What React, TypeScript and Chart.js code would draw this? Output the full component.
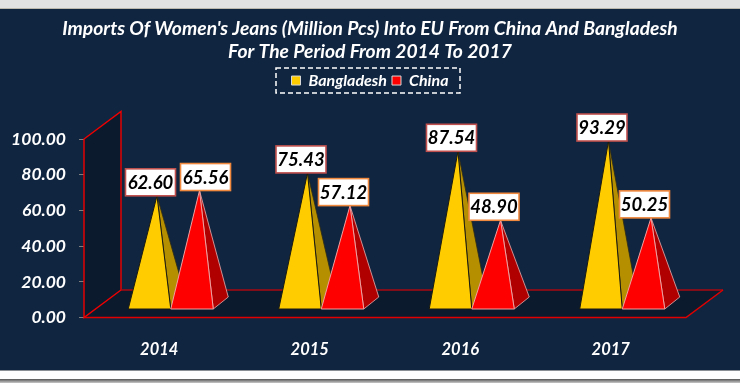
import React, { useEffect, useRef } from "react";
import { Chart, registerables } from "chart.js";

Chart.register(...registerables);

const years = ["2014", "2015", "2016", "2017"];
const bangladesh = [62.6, 75.43, 87.54, 93.29];
const china = [65.56, 57.12, 48.9, 50.25];
const seriesNames = ["Bangladesh", "China"];
const yTicks = [0, 20, 40, 60, 80, 100];
const titleLines = [
  "Imports Of Women's Jeans (Million Pcs) Into EU From China And Bangladesh",
  "For The Period From 2014 To 2017",
];

const FONT = "Lato, Carlito, 'Open Sans', sans-serif";
const NAVY = "#10253F";
const WALL = "#0C1A2E";
const YELLOW = "#FFCC00";
const RED = "#FF0000";

const skins = [
  { front: YELLOW, side: "#B58F00", edge: "#1a1a10", sideEdge: "#2b2a18", box: "#C0504D" },
  { front: RED, side: "#B00000", edge: "#EFA0A0", sideEdge: "#E8B0B0", box: "#F0883E" },
];

const wallDepth = { x: 37, y: -27.6 };
const floorShift = { x: 11.5, y: -8.1 };
const baseDepth = { x: 15, y: -12 };
const apexLift = 10;

function poly(ctx: CanvasRenderingContext2D, pts: number[][], fill: string | null, stroke: string | null, lw = 1) {
  ctx.beginPath();
  pts.forEach((p, i) => (i ? ctx.lineTo(p[0], p[1]) : ctx.moveTo(p[0], p[1])));
  ctx.closePath();
  if (fill) {
    ctx.fillStyle = fill;
    ctx.fill();
  }
  if (stroke) {
    ctx.strokeStyle = stroke;
    ctx.lineWidth = lw;
    ctx.stroke();
  }
}

const backdrop = {
  id: "backdrop",
  beforeDraw(chart: any) {
    const { ctx, width, height } = chart;
    ctx.save();
    ctx.fillStyle = "#FFFFFF";
    ctx.fillRect(0, 0, width, height);
    ctx.fillStyle = "#E2E2E2";
    ctx.fillRect(0, 0, width, 8);
    ctx.fillStyle = "#BDB8AE";
    ctx.fillRect(0, 8, width, 1);
    ctx.fillStyle = NAVY;
    ctx.fillRect(0, 9, width, 361);
    ctx.fillStyle = "#8A8F96";
    ctx.fillRect(0, 370, width, 1);
    const g = ctx.createLinearGradient(0, 379, 0, 383);
    g.addColorStop(0, "#555555");
    g.addColorStop(1, "#C8C8C8");
    ctx.fillStyle = g;
    ctx.fillRect(0, 379, width, 4);

    ctx.strokeStyle = "#FFFFFF";
    ctx.lineWidth = 1.5;
    ctx.setLineDash([5, 3]);
    ctx.strokeRect(276, 68, 184, 25);
    ctx.restore();
  },
  beforeDatasetsDraw(chart: any) {
    const { ctx, chartArea: a } = chart;
    const d = wallDepth;
    ctx.save();
    poly(ctx, [[a.left, a.bottom], [a.right, a.bottom], [a.right + d.x, a.bottom + d.y], [a.left + d.x, a.bottom + d.y]], WALL, null);
    poly(ctx, [[a.left, a.bottom], [a.left, a.top], [a.left + d.x, a.top + d.y], [a.left + d.x, a.bottom + d.y]], WALL, "#F00000", 1.4);
    ctx.strokeStyle = "#A80A12";
    ctx.lineWidth = 1.5;
    ctx.beginPath();
    ctx.moveTo(a.left + d.x, a.bottom + d.y);
    ctx.lineTo(a.right + d.x, a.bottom + d.y);
    ctx.stroke();
    ctx.strokeStyle = "#E00000";
    ctx.beginPath();
    ctx.moveTo(a.left, a.bottom);
    ctx.lineTo(a.right, a.bottom);
    ctx.lineTo(a.right + d.x, a.bottom + d.y);
    ctx.stroke();
    ctx.restore();
  },
};

const pyramids = {
  id: "pyramids",
  afterDatasetsDraw(chart: any) {
    const { ctx } = chart;
    ctx.save();
    const tops: any[] = [];
    chart.data.datasets.forEach((ds: any, di: number) => {
      const skin = skins[di];
      chart.getDatasetMeta(di).data.forEach((bar: any, i: number) => {
        const halfW = bar.width / 2;
        const l = bar.x - halfW + floorShift.x;
        const r = bar.x + halfW + floorShift.x;
        const by = bar.base + floorShift.y;
        const apex = [(l + r + baseDepth.x) / 2, bar.y - apexLift];
        const backR = [r + baseDepth.x, by + baseDepth.y];
        poly(ctx, [[r, by], backR, apex], skin.side, skin.sideEdge, 0.8);
        poly(ctx, [[l, by], [r, by], apex], skin.front, skin.edge, 1);
        tops.push({ apex, value: ds.data[i], box: skin.box, di, i });
      });
    });
    tops.forEach((t) => {
      const w = 50;
      const h = 27;
      const flipRight = t.di === 1 && t.i === 0;
      const cx = t.apex[0] + (flipRight ? 6 : -6.5);
      const x = cx - w / 2;
      const y = t.apex[1] - h;
      ctx.fillStyle = "#FFFFFF";
      ctx.fillRect(x, y, w, h);
      ctx.strokeStyle = t.box;
      ctx.lineWidth = 1.6;
      ctx.strokeRect(x, y, w, h);
      ctx.fillStyle = "#000000";
      ctx.font = `italic bold 18.5px ${FONT}`;
      ctx.textAlign = "center";
      ctx.textBaseline = "middle";
      ctx.fillText(t.value.toFixed(2), cx, y + h / 2 + 0.5);
    });
    ctx.restore();
  },
};

export default function App() {
  const ref = useRef<HTMLCanvasElement>(null);
  useEffect(() => {
    document.body.style.margin = "0";
    const chart = new Chart(ref.current as HTMLCanvasElement, {
      type: "bar",
      data: {
        labels: years,
        datasets: [
          { label: seriesNames[0], data: bangladesh, backgroundColor: "transparent", barPercentage: 1, categoryPercentage: 0.565 },
          { label: seriesNames[1], data: china, backgroundColor: "transparent", barPercentage: 1, categoryPercentage: 0.565 },
        ],
      },
      plugins: [backdrop, pyramids],
      options: {
        responsive: false,
        animation: false,
        layout: { padding: 0 },
        plugins: {
          tooltip: { enabled: false },
          title: {
            display: true,
            text: titleLines,
            color: "#FFFFFF",
            font: { family: FONT, size: 19.3, style: "italic", weight: "bold", lineHeight: 1.19 },
            padding: { top: 17, bottom: 4.6 },
          },
          subtitle: {
            display: true,
            text: " ",
            weight: 500,
            font: { size: 1, lineHeight: 1 },
            padding: { top: 19.75, bottom: 19.75 },
          } as any,
          legend: {
            display: true,
            position: "top",
            labels: {
              boxWidth: 9,
              boxHeight: 9,
              padding: 5,
              color: "#FFFFFF",
              font: { family: FONT, size: 16, style: "italic", weight: "bold" },
              generateLabels: () =>
                seriesNames.map((text, i) => ({
                  text,
                  fillStyle: i ? RED : YELLOW,
                  strokeStyle: "#D8D8D8",
                  lineWidth: 1,
                  fontColor: "#FFFFFF",
                  datasetIndex: i,
                })),
            },
          },
        },
        scales: {
          x: {
            offset: true,
            grid: { display: false },
            border: { display: false },
            ticks: {
              color: "#FFFFFF",
              padding: 14,
              font: { family: FONT, size: 16.5, style: "italic", weight: "bold" },
            },
            afterFit(s: any) {
              s.height = 383 - 317.6;
            },
          },
          y: {
            min: 0,
            max: 100,
            afterBuildTicks(s: any) {
              s.ticks = yTicks.map((value) => ({ value }));
            },
            grid: { drawOnChartArea: false, tickLength: 5, tickColor: "#7F7F7F" },
            border: { display: false },
            ticks: {
              color: "#FFFFFF",
              padding: 13,
              callback: (v: any) => Number(v).toFixed(2),
              font: { family: FONT, size: 17.5, style: "italic", weight: "bold" },
            },
            afterFit(s: any) {
              s.width = 84;
            },
          },
          gutter: {
            position: "right",
            grid: { display: false },
            border: { display: false },
            ticks: { display: false },
            afterFit(s: any) {
              s.width = 54;
            },
          },
        },
      },
    } as any);
    return () => chart.destroy();
  }, []);
  return <canvas ref={ref} width={740} height={383} style={{ display: "block" }} />;
}
